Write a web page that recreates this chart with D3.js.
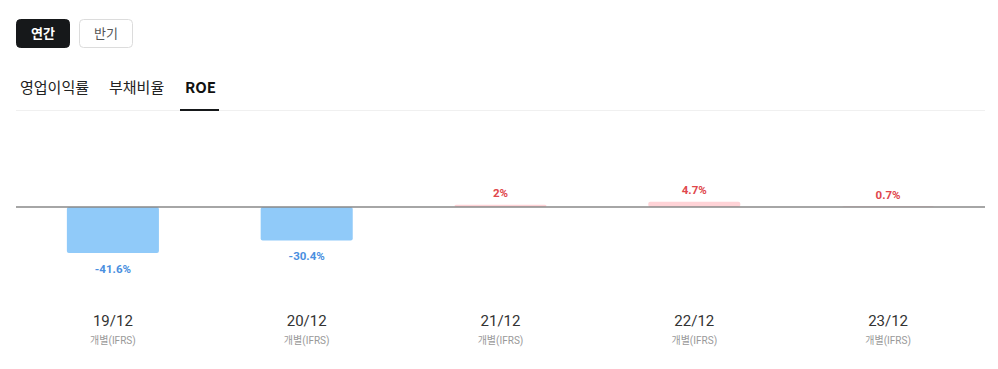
<!DOCTYPE html>
<html><head><meta charset="utf-8">
<script src="https://cdn.jsdelivr.net/npm/d3@7"></script>
<style>
html,body{margin:0;padding:0;background:#fff;}
svg{display:block;font-family:Roboto,"Noto Sans CJK KR",sans-serif;}
</style></head>
<body>
<svg id="chart" width="998" height="369"></svg>
<script>
const categories = ["19/12","20/12","21/12","22/12","23/12"];
const subLabels = ["개별(IFRS)","개별(IFRS)","개별(IFRS)","개별(IFRS)","개별(IFRS)"];
const roeValues = [-41.6, -30.4, 2, 4.7, 0.7];
const valueLabels = ["-41.6%","-30.4%","2%","4.7%","0.7%"];
const periodButtons = ["연간","반기"];
const metricTabs = ["영업이익률","부채비율","ROE"];

const svg = d3.select("#chart");
const KR = '"Noto Sans CJK KR",sans-serif';

// period buttons
const btnX = [16, 79];
periodButtons.forEach((t,i)=>{
  const g = svg.append("g");
  g.append("rect").attr("x",btnX[i]+0.5).attr("y",19.5).attr("width",53).attr("height",28).attr("rx",4)
    .attr("fill", i===0 ? "#16181a" : "#fff").attr("stroke", i===0 ? "#16181a" : "#dcdcdc");
  g.append("text").attr("x",btnX[i]+27).attr("y",38).attr("text-anchor","middle")
    .attr("font-family",KR).attr("font-size",13).attr("font-weight", i===0?700:400)
    .attr("fill", i===0 ? "#fff" : "#555").text(t);
});

// tabs
svg.append("line").attr("x1",16).attr("x2",985).attr("y1",110.5).attr("y2",110.5).attr("stroke","#f0f0f0");
const tabX = [20, 109, 185];
metricTabs.forEach((t,i)=>{
  svg.append("text").attr("x",tabX[i]).attr("y",93).attr("font-family",KR).attr("font-size",15)
    .attr("font-weight", i===2?700:400).attr("fill", i===2?"#111":"#222").text(t);
});
svg.append("rect").attr("x",180).attr("y",109).attr("width",39).attr("height",2).attr("fill","#16181a");

// chart
const x = d3.scaleBand().domain(categories).range([16,985]).paddingInner(0.525).paddingOuter(0.2625);
const y = d3.scaleLinear().domain([d3.min(roeValues), 0]).range([253, 207]);

svg.selectAll("rect.bar").data(roeValues).join("rect").attr("class","bar")
  .attr("x",(d,i)=>x(categories[i]))
  .attr("width",x.bandwidth())
  .attr("y",d=>Math.min(y(d),y(0)))
  .attr("height",d=>Math.abs(y(d)-y(0)))
  .attr("rx",2)
  .attr("fill",d=>d<0?"#90caf9":"#ffd3d7");

svg.append("line").attr("x1",16).attr("x2",985).attr("y1",y(0)).attr("y2",y(0))
  .attr("stroke","#888").attr("stroke-width",1.5);

svg.selectAll("text.val").data(roeValues).join("text").attr("class","val")
  .attr("x",(d,i)=>x(categories[i])+x.bandwidth()/2)
  .attr("y",d=> d<0 ? y(d)+19.5 : y(d)-7.5)
  .attr("text-anchor","middle").attr("font-size",11.5).attr("font-weight",700)
  .attr("fill",d=>d<0?"#4a8fe0":"#e0474c")
  .text((d,i)=>valueLabels[i]);

const xAxis = svg.append("g");
xAxis.selectAll("text.cat").data(categories).join("text").attr("class","cat")
  .attr("x",d=>x(d)+x.bandwidth()/2).attr("y",325.5).attr("text-anchor","middle")
  .attr("font-size",15).attr("fill","#333").text(d=>d);
xAxis.selectAll("text.sub").data(subLabels).join("text").attr("class","sub")
  .attr("x",(d,i)=>x(categories[i])+x.bandwidth()/2).attr("y",344).attr("text-anchor","middle")
  .attr("font-size",10).attr("fill","#999").text(d=>d);
</script>
</body></html>
